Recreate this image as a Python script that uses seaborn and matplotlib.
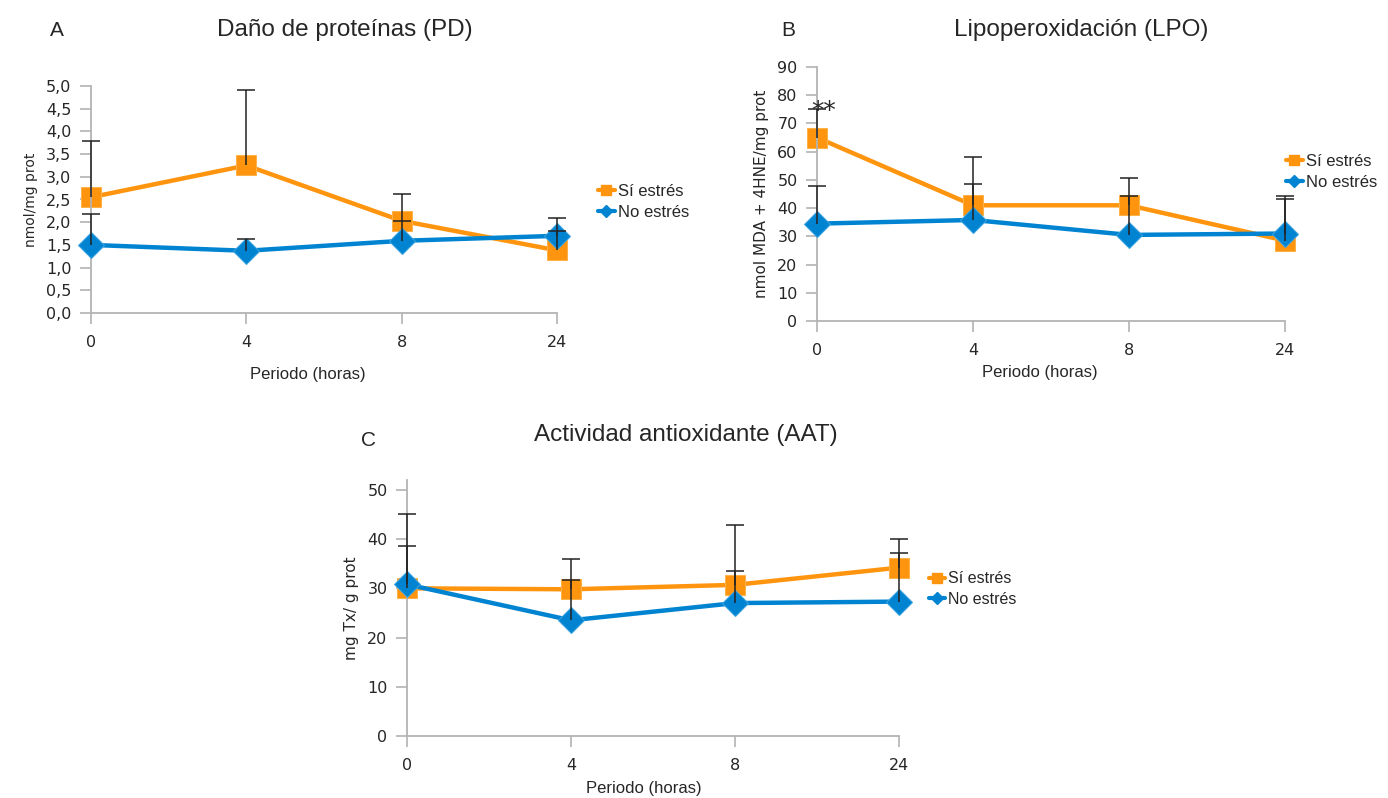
import numpy as np
import pandas as pd
import matplotlib
matplotlib.use("Agg")
import matplotlib.pyplot as plt
from matplotlib.lines import Line2D
import seaborn as sns

sns.set_style("white")
plt.rcParams["font.family"] = ["Liberation Sans", "DejaVu Sans"]

# Data
horas = ["0", "4", "8", "24"]
grupos = ["Sí estrés", "No estrés"]

pd_si = [2.55, 3.25, 2.03, 1.38]
pd_no = [1.50, 1.37, 1.59, 1.70]
pd_si_top = [3.78, 4.92, 2.62, 1.80]
pd_no_top = [2.18, 1.63, 2.02, 2.10]

lpo_si = [65.0, 41.0, 41.0, 28.5]
lpo_no = [34.5, 35.8, 30.5, 31.0]
lpo_si_top = [75.0, 58.0, 50.5, 43.2]
lpo_no_top = [48.0, 48.5, 44.3, 44.3]

aat_si = [30.0, 29.8, 30.7, 34.2]
aat_no = [30.8, 23.5, 27.0, 27.3]
aat_si_top = [45.0, 36.0, 42.8, 40.1]
aat_no_top = [38.6, 31.6, 33.6, 37.1]

naranja = "#FF950E"
azul = "#0084D1"
gris = "#b3b3b3"

fig = plt.figure(figsize=(13.88, 7.98), dpi=100)
W, H = 1388, 798


def px_axes(x0, x1, ytop, ybot):
    return fig.add_axes([x0 / W, 1 - ybot / H, (x1 - x0) / W, (ybot - ytop) / H])


def panel(ax, si, no, si_top, no_top, ylim, yticks, ylabel, ylab_size, comma=False):
    df = pd.DataFrame({
        "pos": list(range(4)) * 2,
        "valor": si + no,
        "grupo": [grupos[0]] * 4 + [grupos[1]] * 4,
    })
    sns.lineplot(data=df, x="pos", y="valor", hue="grupo", style="grupo",
                 palette={grupos[0]: naranja, grupos[1]: azul},
                 markers={grupos[0]: "s", grupos[1]: "D"}, dashes=False,
                 linewidth=3.2, markersize=14.5, legend=False, ax=ax)
    lines = ax.get_lines()
    lines[0].set_markeredgecolor("#ffb24a")
    lines[0].set_zorder(2)
    lines[1].set_markeredgecolor("#3aa3e0")
    lines[1].set_markersize(13)
    lines[1].set_zorder(3)
    for ln in lines:
        ln.set_clip_on(False)
    x = np.arange(4)
    for vals, tops in [(si, si_top), (no, no_top)]:
        ax.vlines(x, vals, tops, color="#222222", lw=1.1, zorder=5, clip_on=False)
        ax.plot(x, tops, ls="none", marker="_", ms=13, mew=1.1, color="#222222",
                zorder=5, clip_on=False)
    ax.set_xlim(0, 3)
    ax.set_ylim(*ylim)
    ax.set_xticks(x)
    ax.set_xticklabels(horas)
    ax.set_yticks(yticks)
    if comma:
        ax.set_yticklabels([f"{v:.1f}".replace(".", ",") for v in yticks])
    ax.set_xlabel("")
    ax.set_ylabel(ylabel, fontsize=ylab_size, family="DejaVu Sans", labelpad=6)
    for s in ["top", "right"]:
        ax.spines[s].set_visible(False)
    for s in ["left", "bottom"]:
        ax.spines[s].set_color(gris)
        ax.spines[s].set_linewidth(1.3)
    ax.tick_params(axis="both", direction="out", length=8, width=1.2, color=gris,
                   labelsize=11.5, pad=6, bottom=True, left=True)
    for lab in ax.get_xticklabels() + ax.get_yticklabels():
        lab.set_family("DejaVu Sans")
    ax.tick_params(axis="x", pad=8)
    ax.set_facecolor("white")


def leyenda(x, y, size):
    h = [Line2D([], [], color=naranja, lw=3, marker="s", ms=7),
         Line2D([], [], color=azul, lw=3, marker="D", ms=6)]
    fig.legend(h, grupos, loc="center left", bbox_to_anchor=(x / W, 1 - y / H),
               frameon=False, fontsize=size, handlelength=1.0, handletextpad=0.2,
               labelspacing=0.35, borderaxespad=0, borderpad=0)


# A
axA = px_axes(91, 557, 86, 313)
panel(axA, pd_si, pd_no, pd_si_top, pd_no_top, (0, 5), np.arange(0, 5.01, 0.5),
      "nmol/mg prot", 10, comma=True)
fig.text(57 / W, 1 - 30 / H, "A", fontsize=15, ha="center", va="center")
fig.text(345 / W, 1 - 30 / H, "Daño de proteínas (PD)", fontsize=17.5, ha="center", va="center")
fig.text(308 / W, 1 - 375 / H, "Periodo (horas)", fontsize=12, ha="center", va="center")
leyenda(598, 202, 12)

# B
axB = px_axes(817, 1285, 67, 321)
panel(axB, lpo_si, lpo_no, lpo_si_top, lpo_no_top, (0, 90), np.arange(0, 91, 10),
      "nmol MDA + 4HNE/mg prot", 11)
axB.annotate("**", xy=(0, 74.5), xytext=(5, 0), textcoords="offset points",
             ha="center", va="center", fontsize=18, family="DejaVu Sans", zorder=6)
fig.text(788 / W, 1 - 30 / H, "B", fontsize=15, ha="center", va="center")
fig.text(1081 / W, 1 - 30 / H, "Lipoperoxidación (LPO)", fontsize=17.5, ha="center", va="center")
fig.text(1040 / W, 1 - 372 / H, "Periodo (horas)", fontsize=12, ha="center", va="center")
leyenda(1286, 172, 12)

# C
axC = px_axes(407, 899, 480, 736)
panel(axC, aat_si, aat_no, aat_si_top, aat_no_top, (0, 52), np.arange(0, 51, 10),
      "mg Tx/ g prot", 11)
fig.text(368 / W, 1 - 440 / H, "C", fontsize=15, ha="center", va="center")
fig.text(686 / W, 1 - 435 / H, "Actividad antioxidante (AAT)", fontsize=17.5, ha="center", va="center")
fig.text(644 / W, 1 - 788 / H, "Periodo (horas)", fontsize=12, ha="center", va="center")
leyenda(929, 589, 11.5)

fig.savefig("out.png", dpi=100, facecolor="white")
